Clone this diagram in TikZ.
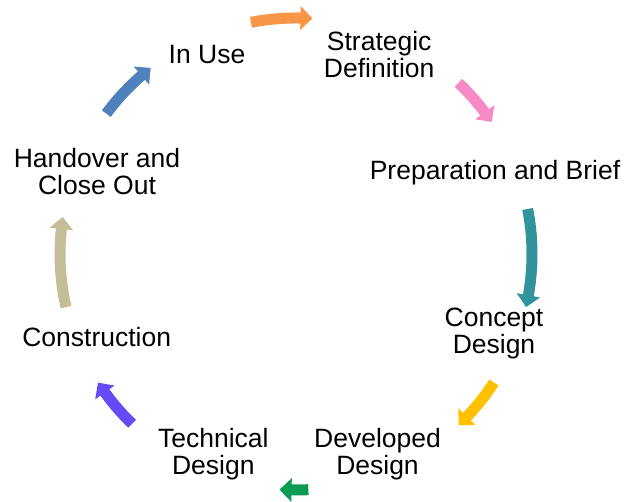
\documentclass[tikz,border=0pt]{standalone}
\usepackage{fontspec}
\setmainfont{Liberation Sans}
\usetikzlibrary{arrows.meta,calc,bending}
\definecolor{corange}{HTML}{F79646}
\definecolor{cpink}{HTML}{F58AC4}
\definecolor{cteal}{HTML}{31939B}
\definecolor{cyellow}{HTML}{FFC000}
\definecolor{cgreen}{HTML}{0B9B53}
\definecolor{cpurple}{HTML}{654BF5}
\definecolor{ckhaki}{HTML}{C4BD97}
\definecolor{cblue}{HTML}{4F81BD}
\begin{document}
\begin{tikzpicture}[x=1pt,y=1pt,
  lbl/.style={align=center,font=\fontsize{26.5}{27}\selectfont,inner sep=0pt,anchor=base},
  cyc/.style={line width=11pt,-{Triangle[width=23pt,length=12pt,bend]}}]
\useasboundingbox (0,0) rectangle (626,502);
\coordinate (c) at (296,248);
% labels (anchored at last-line baseline)
\node[lbl] (inuse) at (207,438.7) {In Use};
\node[lbl] (strat) at (379.2,424.3) {Strategic\\Definition};
\node[lbl] (prep) at (495,322) {Preparation and Brief};
\node[lbl] (concept) at (494,148.5) {Concept\\Design};
\node[lbl] (developed) at (377.5,27) {Developed\\Design};
\node[lbl] (technical) at (213.3,27) {Technical\\Design};
\node[lbl] (constr) at (96.7,155.3) {Construction};
\node[lbl] (handover) at (97,307.7) {Handover and\\Close Out};
% arrow start points
\coordinate (a1) at ($(c)+(101:236)$);
\coordinate (a2) at ($(c)+(46.5:236)$);
\coordinate (a3) at ($(c)+(11:236)$);
\coordinate (a4) at ($(c)+(-33:236)$);
\coordinate (a5) at ($(c)+(-87:236)$);
\coordinate (a6) at ($(c)+(-134:236)$);
\coordinate (a7) at ($(c)+(-167:236)$);
\coordinate (a8) at ($(c)+(143.5:236)$);
\draw[cyc,corange] (a1) arc[start angle=101,end angle=86,radius=236];
\draw[cyc,cpink] (a2) arc[start angle=46.5,end angle=34,radius=236];
\draw[cyc,cteal] (a3) arc[start angle=11,end angle=-13,radius=236];
\draw[cyc,cyellow] (a4) arc[start angle=-33,end angle=-46.5,radius=236];
\draw[cyc,cgreen] (a5) arc[start angle=-87,end angle=-94,radius=236];
\draw[cyc,cpurple] (a6) arc[start angle=-134,end angle=-147,radius=236];
\draw[cyc,ckhaki] (a7) arc[start angle=-167,end angle=-189,radius=236];
\draw[cyc,cblue] (a8) arc[start angle=143.5,end angle=128,radius=236];
\end{tikzpicture}
\end{document}
